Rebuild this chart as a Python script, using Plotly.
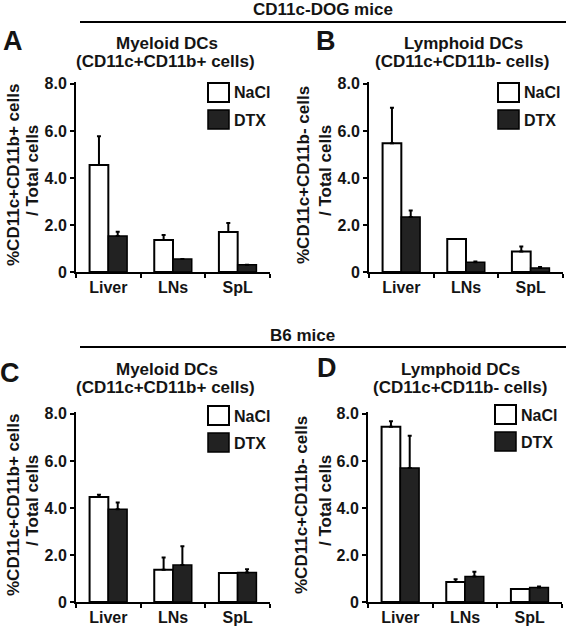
import plotly.graph_objects as go

categories = ["Liver", "LNs", "SpL"]
series_names = ["NaCl", "DTX"]
tick_vals = [0, 2, 4, 6, 8]
tick_text = ["0", "2.0", "4.0", "6.0", "8.0"]

# Panel A: CD11c-DOG, myeloid
a_nacl = [4.55, 1.36, 1.70]
a_nacl_err = [1.22, 0.21, 0.38]
a_dtx = [1.53, 0.55, 0.31]
a_dtx_err = [0.18, 0.0, 0.0]
# Panel B: CD11c-DOG, lymphoid
b_nacl = [5.48, 1.40, 0.87]
b_nacl_err = [1.50, 0.0, 0.21]
b_dtx = [2.34, 0.41, 0.17]
b_dtx_err = [0.28, 0.04, 0.04]
# Panel C: B6, myeloid
c_nacl = [4.47, 1.37, 1.23]
c_nacl_err = [0.09, 0.52, 0.0]
c_dtx = [3.94, 1.57, 1.25]
c_dtx_err = [0.29, 0.80, 0.14]
# Panel D: B6, lymphoid
d_nacl = [7.45, 0.85, 0.55]
d_nacl_err = [0.24, 0.12, 0.0]
d_dtx = [5.70, 1.08, 0.62]
d_dtx_err = [1.37, 0.21, 0.04]

panel_letters = ["A", "B", "C", "D"]
panel_title1 = ["Myeloid DCs", "Lymphoid DCs", "Myeloid DCs", "Lymphoid DCs"]
panel_title2 = ["(CD11c+CD11b+ cells)", "(CD11c+CD11b- cells)",
                "(CD11c+CD11b+ cells)", "(CD11c+CD11b- cells)"]
y_title1 = ["%CD11c+CD11b+ cells", "%CD11c+CD11b- cells",
            "%CD11c+CD11b+ cells", "%CD11c+CD11b- cells"]
y_title2 = ["/ Total cells"] * 4
group_titles = ["CD11c-DOG mice", "B6 mice"]

W, H = 566, 626
FONT = "Liberation Sans, Arial, Helvetica, sans-serif"
TXT = "#141414"
DARK = "#222222"

panels = [
    (a_nacl, a_nacl_err, a_dtx, a_dtx_err),
    (b_nacl, b_nacl_err, b_dtx, b_dtx_err),
    (c_nacl, c_nacl_err, c_dtx, c_dtx_err),
    (d_nacl, d_nacl_err, d_dtx, d_dtx_err),
]
# pixel boxes of plot areas: (x_left, x_right, y_top, y_bottom)
boxes = [(76, 270, 82, 272), (369, 563, 82, 272), (76, 270, 412, 602), (368, 562, 412, 602)]
legend_dx = [132, 129, 132, 127]
legend_dy = [1, 1, -6, -7]
letter_pos = [(13, 43), (326, 43), (10, 375), (327, 370)]
title_dx = [(-6, -8), (-3, -4), (-6, -8), (-5, -5)]
title_dy = [(-39, -20), (-39, -20), (-43, -24), (-43, -24)]
ytitle_dx = [(-63, -44), (-66, -44), (-63, -44), (-67, -43)]

fig = go.Figure()
layout = dict(
    width=W, height=H, margin=dict(l=0, r=0, t=0, b=0, pad=0, autoexpand=False),
    paper_bgcolor="white", plot_bgcolor="white",
    barmode="group", bargap=0.42, bargroupgap=0.0,
    showlegend=False,
    font=dict(family=FONT, size=16, color=TXT, weight="bold"),
)
annotations = []
shapes = []

def px_x(x):
    return x / W

def px_y(y):
    return 1 - y / H

def label(text, x, y, size, anchor="center", angle=0):
    annotations.append(dict(
        text=text, xref="paper", yref="paper", x=px_x(x), y=px_y(y), showarrow=False,
        xanchor=anchor, yanchor="middle", textangle=angle,
        font=dict(size=size, family=FONT, color=TXT, weight="bold"),
    ))

for i, (nacl, nacl_err, dtx, dtx_err) in enumerate(panels):
    n = "" if i == 0 else str(i + 1)
    xa, ya = "x" + n, "y" + n
    x0, x1, yt, yb = boxes[i]
    fig.add_trace(go.Bar(
        x=categories, y=nacl, name=series_names[0], xaxis=xa, yaxis=ya,
        marker=dict(color="white", line=dict(color="black", width=2)),
        error_y=dict(type="data", array=nacl_err, arrayminus=[0] * 3, symmetric=False,
                     color="black", thickness=2, width=2),
    ))
    fig.add_trace(go.Bar(
        x=categories, y=dtx, name=series_names[1], xaxis=xa, yaxis=ya,
        marker=dict(color=DARK, line=dict(color="black", width=1.5)),
        error_y=dict(type="data", array=dtx_err, arrayminus=[0] * 3, symmetric=False,
                     color="black", thickness=2, width=2),
    ))
    layout["xaxis" + n] = dict(
        domain=[px_x(x0), px_x(x1)], anchor=ya, type="category", range=[-0.5, 2.5],
        automargin=False,
        showline=True, linecolor="black", linewidth=2, ticks="outside", tickson="boundaries",
        ticklen=4, tickwidth=2, tickcolor="black", showgrid=False,
        tickfont=dict(size=16, family=FONT, color=TXT, weight="bold"), fixedrange=True,
    )
    layout["yaxis" + n] = dict(
        domain=[px_y(yb), px_y(yt)], anchor=xa, range=[0, 8.08],
        automargin=False,
        tickvals=tick_vals, ticktext=tick_text,
        showline=True, linecolor="black", linewidth=2, ticks="outside",
        ticklen=4, tickwidth=2, tickcolor="black", showgrid=False, zeroline=False,
        tickfont=dict(size=16, family=FONT, color=TXT, weight="bold"), fixedrange=True,
    )
    # y axis title (two rotated lines)
    label(y_title1[i], x0 + ytitle_dx[i][0], yt + 93, 17, angle=-90)
    label(y_title2[i], x0 + ytitle_dx[i][1], yt + 89, 17, angle=-90)
    # panel titles
    cx = (x0 + x1) / 2
    label(panel_title1[i], cx + title_dx[i][0], yt + title_dy[i][0], 17)
    label(panel_title2[i], cx + title_dx[i][1], yt + title_dy[i][1], 17)
    # panel letter
    lxp, lyp = letter_pos[i]
    label(panel_letters[i], lxp, lyp - 2, 27)
    # legend (custom, large swatches)
    lx0 = x0 + legend_dx[i]
    ly = yt + legend_dy[i]
    for j, (fill, lw) in enumerate([("white", 2), (DARK, 1.5)]):
        top = ly + j * 27
        shapes.append(dict(type="rect", xref="paper", yref="paper",
                           x0=px_x(lx0), x1=px_x(lx0 + 21), y0=px_y(top + 19), y1=px_y(top),
                           fillcolor=fill, line=dict(color="black", width=lw)))
        label(series_names[j], lx0 + 24, top + 10, 16, anchor="left")

# group headers and lines
label(group_titles[0], 323, 10, 17)
label(group_titles[1], 302, 335, 17)
shapes.append(dict(type="line", xref="paper", yref="paper", x0=px_x(80), x1=px_x(566),
                   y0=px_y(22), y1=px_y(22), line=dict(color="black", width=2)))
shapes.append(dict(type="line", xref="paper", yref="paper", x0=px_x(80), x1=px_x(566),
                   y0=px_y(347), y1=px_y(347), line=dict(color="black", width=2)))

layout["annotations"] = annotations
layout["shapes"] = shapes
fig.update_layout(**layout)
fig.write_html("out.html", config={"displayModeBar": False},
               post_script="document.body.style.margin='0';")
